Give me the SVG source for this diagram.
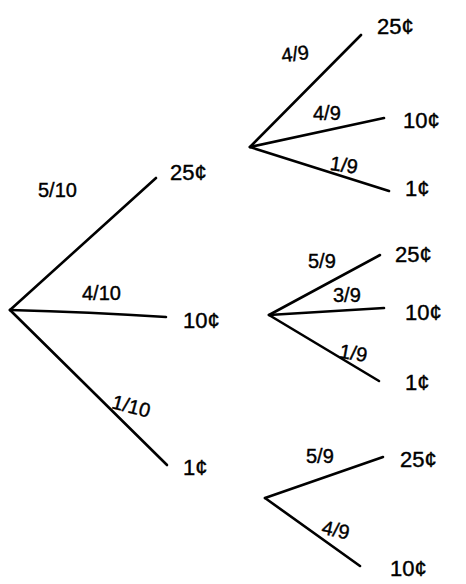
<svg xmlns="http://www.w3.org/2000/svg" width="466" height="584" viewBox="0 0 466 584">
<style>
.e{stroke:#000;stroke-width:2.6;fill:none;stroke-linecap:round;stroke-linejoin:round}
.v{font-family:"Liberation Sans","DejaVu Sans",sans-serif;font-size:22px;fill:#000;stroke:#000;stroke-width:0.4}
.p{font-family:"Liberation Sans","DejaVu Sans",sans-serif;font-size:20px;fill:#000;stroke:#000;stroke-width:0.4}
</style>
<rect width="466" height="584" fill="#fff"/>
<g id="connectors">
<path class="e" d="M10 310 L156 178"/>
<path class="e" d="M10 310 Q90 312 166 317"/>
<path class="e" d="M10 310 L167 465"/>
<path class="e" d="M250 147 L361 35"/>
<path class="e" d="M250 147 L384 118"/>
<path class="e" d="M250 147 L389 191"/>
<path class="e" d="M269 315 L380 255"/>
<path class="e" d="M269 315 L384 308"/>
<path class="e" d="M269 315 L379 381"/>
<path class="e" d="M265 498 L383 457"/>
<path class="e" d="M265 498 L360 566"/>
</g>
<g id="root"><text class="p" x="38" y="197">5/10</text></g>
<g id="root-labels">
<text class="p" x="82" y="300">4/10</text>
<text class="p" x="113" y="414" transform="rotate(15 135 402)">1/10</text>
</g>
<g id="n25"><text class="v" x="170" y="180">25¢</text></g>
<g id="n10"><text class="v" x="183" y="328">10¢</text></g>
<g id="n1"><text class="v" x="183" y="475">1¢</text></g>
<g id="b25">
<text class="p" x="281" y="60" transform="rotate(-8 300 52)">4/9</text>
<text class="p" x="313" y="120">4/9</text>
<text class="p" x="330" y="172" transform="rotate(8 345 165)">1/9</text>
<text class="v" x="377" y="34">25¢</text>
<text class="v" x="403" y="128">10¢</text>
<text class="v" x="405" y="196">1¢</text>
</g>
<g id="b10">
<text class="p" x="308" y="268">5/9</text>
<text class="p" x="333" y="302">3/9</text>
<text class="p" x="340" y="360" transform="rotate(10 354 350)">1/9</text>
<text class="v" x="395" y="262">25¢</text>
<text class="v" x="405" y="320">10¢</text>
<text class="v" x="405" y="390">1¢</text>
</g>
<g id="b1">
<text class="p" x="306" y="463">5/9</text>
<text class="p" x="322" y="538" transform="rotate(12 342 530)">4/9</text>
<text class="v" x="400" y="467">25¢</text>
<text class="v" x="390" y="576">10¢</text>
</g>
</svg>
